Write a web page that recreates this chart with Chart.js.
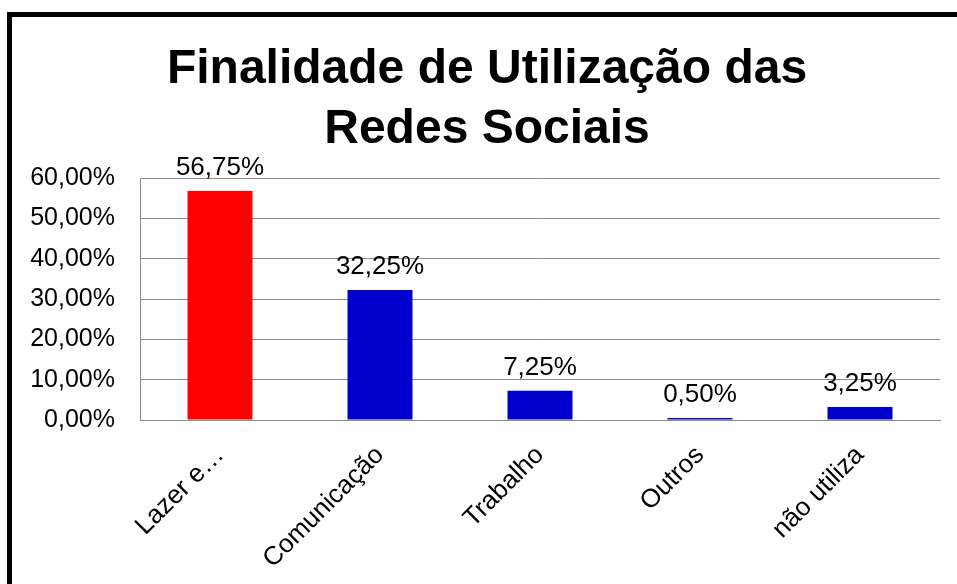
<!DOCTYPE html>
<html>
<head>
<meta charset="utf-8">
<script src="https://cdn.jsdelivr.net/npm/chart.js@4"></script>
<style>
  html, body { margin: 0; padding: 0; background: #fff; overflow: hidden; }
  #wrap { position: relative; width: 957px; height: 584px; }
  #frame {
    position: absolute; left: 7px; top: 12px;
    width: 1000px; height: 700px;
    border: 5px solid #000; box-sizing: border-box;
  }
  canvas { position: absolute; left: 0; top: 0; }
</style>
</head>
<body>
<div id="wrap">
  <div id="frame"></div>
  <canvas id="chart" width="957" height="584"></canvas>
</div>
<script>
// ---- DATA ----
const categories = ['Lazer e…', 'Comunicação', 'Trabalho', 'Outros', 'não utiliza'];
const percentages = [56.75, 32.25, 7.25, 0.50, 3.25];
const barColors = ['#ff0000', '#0000cc', '#0000cc', '#0000cc', '#0000cc'];
const titleLines = ['Finalidade de Utilização das', 'Redes Sociais'];
const yMax = 60;
const yStep = 10;

const FONT = "'Liberation Sans', Arial, sans-serif";
const fmt = v => v.toFixed(2).replace('.', ',') + '%';

// title drawn above the plot
const titlePlugin = {
  id: 'bigTitle',
  afterDraw(chart) {
    const ctx = chart.ctx;
    ctx.save();
    ctx.font = 'bold 48px ' + FONT;
    ctx.fillStyle = '#000';
    ctx.textAlign = 'center';
    ctx.textBaseline = 'alphabetic';
    titleLines.forEach((line, i) => ctx.fillText(line, 487, 83 + i * 60));
    ctx.restore();
  }
};

// value labels above each bar
const valueLabels = {
  id: 'valueLabels',
  afterDatasetsDraw(chart) {
    const ctx = chart.ctx;
    const meta = chart.getDatasetMeta(0);
    ctx.save();
    ctx.font = '26px ' + FONT;
    ctx.fillStyle = '#000';
    ctx.textAlign = 'center';
    ctx.textBaseline = 'alphabetic';
    meta.data.forEach((bar, i) => {
      ctx.fillText(fmt(percentages[i]), bar.x, bar.y - 16);
    });
    ctx.restore();
  }
};

new Chart(document.getElementById('chart'), {
  type: 'bar',
  data: {
    labels: categories,
    datasets: [{
      data: percentages,
      backgroundColor: barColors,
      borderWidth: 0,
      categoryPercentage: 1,
      barPercentage: 0.406,
    }],
  },
  options: {
    responsive: false,
    animation: false,
    devicePixelRatio: 1,
    layout: { padding: { top: 178, right: 17, left: 0, bottom: 0 } },
    plugins: {
      legend: { display: false },
      title: { display: false },
      tooltip: { enabled: false },
    },
    scales: {
      x: {
        grid: { display: false, drawTicks: false },
        border: { display: true, color: '#8c8c8c', width: 1 },
        ticks: {
          color: '#000',
          font: { family: FONT, size: 26 },
          minRotation: 45,
          maxRotation: 45,
          padding: 20,
        },
        afterFit: s => { s.height = 164; },
      },
      y: {
        min: 0,
        max: yMax,
        grid: { color: '#8c8c8c', lineWidth: 1, drawTicks: false },
        border: { display: true, color: '#8c8c8c', width: 1 },
        ticks: {
          stepSize: yStep,
          color: '#000',
          font: { family: FONT, size: 25 },
          padding: 25,
          callback: v => fmt(v),
        },
        afterFit: s => { s.width = 140; },
      },
    },
  },
  plugins: [titlePlugin, valueLabels],
});
</script>
</body>
</html>
